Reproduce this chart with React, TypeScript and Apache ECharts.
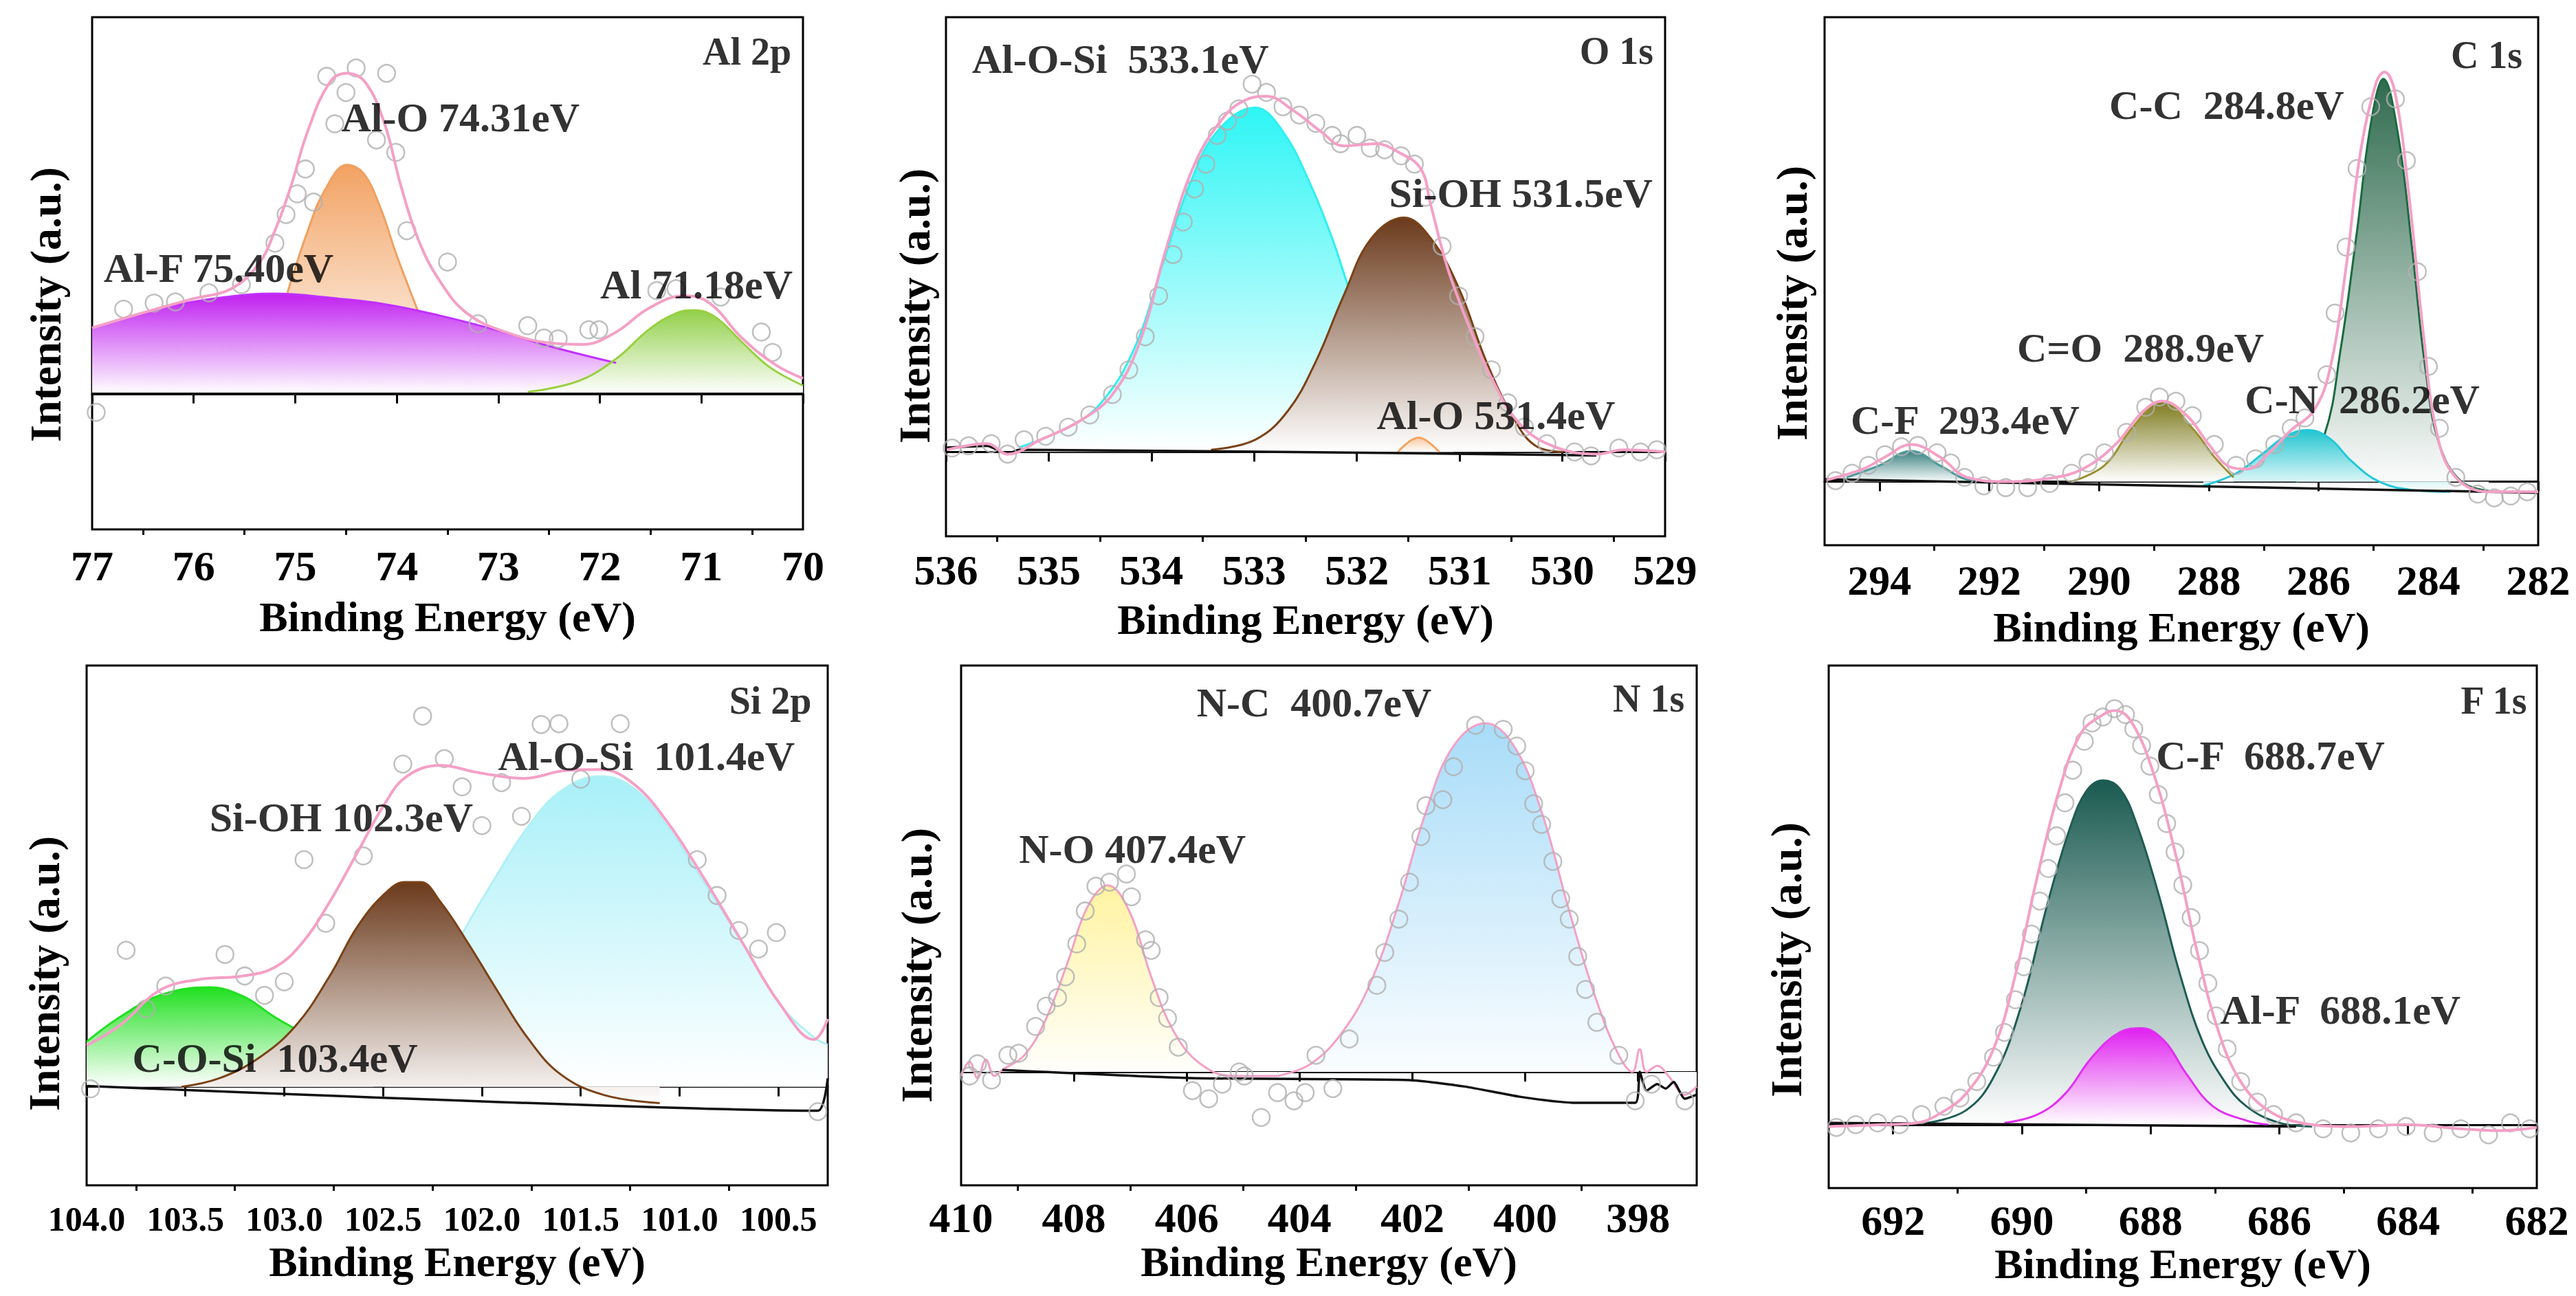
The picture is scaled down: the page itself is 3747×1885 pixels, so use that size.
// XPS fitting panels: Al 2p, O 1s, C 1s, Si 2p, N 1s, F 1s
import React, { useRef, useEffect } from 'react';
import * as echarts from 'echarts';

type Pt = [number, number];
interface Note { x: number; y: number; text: string }

const FONT = '"Liberation Serif", "Times New Roman", serif';
const PINK = '#f4a0c6';
const RAW = '#b0b0b0';

// ---------- Al 2p ----------
const al2pTicks = [77, 76, 75, 74, 73, 72, 71, 70];
const al2pMinor = [76.5, 75.5, 74.5, 73.5, 72.5, 71.5, 70.5];
const al2pEnvelope: Pt[] = [
  [77, 17.5], [76.5, 21.5], [76.01, 25.2], [75.63, 27.9], [75.36, 34.5], [75.2, 43.3], [75.04, 55.3],
  [74.88, 69.5], [74.66, 82.7], [74.49, 85.1], [74.31, 82.7], [74.12, 71.7], [73.96, 55.3], [73.79, 41.1],
  [73.58, 30.1], [73.31, 21.4], [72.93, 16.4], [72.49, 13.5], [72.17, 13.1], [71.84, 16.4], [71.52, 22.7],
  [71.17, 26], [70.92, 24.1], [70.6, 14.8], [70.27, 7.7], [70, 4.1],
];
const al2pAlF: Pt[] = [
  [77, 17.5], [76.5, 21.3], [76.28, 23], [75.74, 25.5], [75.2, 26.6], [74.66, 25.5], [74.12, 23.8],
  [73.58, 20.8], [73.03, 17], [72.49, 12.6], [71.84, 8.2],
];
const al2pAlO: Pt[] = [
  [75.08, 26.5], [74.88, 43], [74.71, 54], [74.49, 60.8], [74.33, 58.6], [74.17, 50], [74.0, 36.7], [73.79, 21.9],
];
const al2pAl: Pt[] = [
  [72.71, 0.5], [72.22, 3.3], [71.84, 9.3], [71.52, 17], [71.25, 21.4], [71.07, 22.2], [70.87, 20.5],
  [70.6, 13.7], [70.33, 7.1], [70, 2.2],
];
const al2pBase: Pt[] = [[77, 0], [70, 0]];
const al2pRaw: Pt[] = [
  [74.69, 84.3], [74.4, 86.5], [74.1, 85.1], [74.5, 80], [74.61, 71.7], [74.2, 67.4], [74.01, 64.1],
  [74.9, 59.7], [74.98, 53.1], [74.82, 50.9], [75.09, 47.6], [73.9, 43.3], [75.2, 40], [73.5, 35],
  [75.53, 29], [75.85, 26.8], [76.18, 24.4], [76.39, 24.1], [76.69, 22.5], [73.2, 18.6], [72.71, 18.1],
  [72.55, 14.8], [72.41, 14.6], [72.11, 17], [72.01, 17], [71.44, 27.4], [71.25, 27.9], [70.81, 25.7],
  [70.41, 16.4], [70.3, 11], [76.96, -4.9],
];
const al2pNotes: Note[] = [
  { x: 74.55, y: 73.4, text: 'Al-O 74.31eV' },
  { x: 76.89, y: 33.4, text: 'Al-F 75.40eV' },
  { x: 72.0, y: 29, text: 'Al 71.18eV' },
];

// ---------- O 1s ----------
const o1sTicks = [536, 535, 534, 533, 532, 531, 530, 529];
const o1sMinor = [535.5, 534.5, 533.5, 532.5, 531.5, 530.5, 529.5];
const o1sEnvelope: Pt[] = [
  [535.99, 0.5], [535.6, 1.9], [535.4, -0.5], [535.08, 2.8], [534.7, 7.1], [534.38, 13.2], [534.11, 25.5],
  [533.85, 47.3], [533.58, 66.2], [533.31, 76.6], [533.1, 80.8], [532.88, 81.8], [532.61, 78.4],
  [532.35, 73.7], [532.13, 70.4], [531.81, 70.9], [531.6, 69], [531.38, 65.2], [531.28, 56.7],
  [531.12, 42.5], [530.9, 28.4], [530.69, 17], [530.42, 6.6], [530.1, 1.4], [529.67, -0.5], [529.4, 0.5], [529, 0],
];
const o1sAlOSi: Pt[] = [
  [535.29, 1], [534.81, 5.7], [534.49, 11.3], [534.17, 23.6], [533.9, 42.5], [533.63, 61.4], [533.36, 73.7],
  [532.99, 79.2], [532.72, 73.7], [532.45, 61.4], [532.24, 49.1], [532.05, 35.9], [531.81, 22.7],
  [531.49, 9.5], [531.06, 1.9],
];
const o1sSiOH: Pt[] = [
  [533.42, 0.5], [532.99, 2.8], [532.67, 9.5], [532.4, 20.8], [532.13, 35.9], [531.86, 49.1], [531.54, 53.9],
  [531.28, 49.1], [531.01, 37.8], [530.74, 20.8], [530.47, 7.6], [530.26, 1.4], [529.99, 0],
];
const o1sAlO: Pt[] = [[531.6, 0], [531.4, 3.3], [531.2, 0]];
const o1sBase: Pt[] = [[535.99, 1], [535.6, 1.4], [535.4, -0.5], [535.29, 0.5], [529.67, -0.8]];
const o1sRaw: Pt[] = [
  [535.94, 0.9], [535.78, 1.4], [535.56, 1.9], [535.4, -0.5], [535.24, 2.8], [535.03, 3.6], [534.81, 5.7],
  [534.6, 8.5], [534.38, 13.2], [534.22, 18.9], [534.06, 26.5], [533.93, 35.9], [533.79, 45.4],
  [533.69, 52.9], [533.58, 60.5], [533.47, 66.2], [533.36, 72.8], [533.26, 76.1], [533.15, 78.9],
  [533.02, 84.6], [532.88, 82.7], [532.72, 79.4], [532.56, 77.5], [532.4, 75.6], [532.24, 72.8],
  [532.16, 70.9], [532.0, 72.8], [531.87, 69.9], [531.73, 69.5], [531.57, 68.1], [531.44, 66.2],
  [531.33, 58.6], [531.17, 47.3], [531.01, 35.9], [530.85, 26.5], [530.69, 18.9], [530.53, 11.3],
  [530.37, 5.7], [530.15, 1.9], [529.88, 0], [529.72, -0.9], [529.45, 0.9], [529.24, 0], [529.08, 0.5],
];
const o1sNotes: Note[] = [
  { x: 535.75, y: 90.3, text: 'Al-O-Si  533.1eV' },
  { x: 531.69, y: 59.5, text: 'Si-OH 531.5eV' },
  { x: 531.81, y: 8.5, text: 'Al-O 531.4eV' },
];

// ---------- C 1s ----------
const c1sTicks = [294, 292, 290, 288, 286, 284, 282];
const c1sMinor = [293, 291, 289, 287, 285, 283];
const c1sEnvelope: Pt[] = [
  [294.95, 0.4], [294.3, 2.7], [293.9, 5.3], [293.42, 8], [292.9, 5.3], [292.4, 0.9], [291.7, 0], [290.9, 0.7],
  [290.3, 2.7], [289.7, 8], [289.2, 15.1], [288.85, 17.3], [288.4, 14.2], [288.0, 8], [287.6, 3.1],
  [287.3, 2.7], [286.9, 6.2], [286.5, 11.1], [286.1, 15.1], [285.8, 23.9], [285.5, 46.1], [285.25, 70],
  [284.95, 86], [284.8, 88.2], [284.6, 83.3], [284.35, 61.2], [284.1, 32.8], [283.85, 10.6], [283.5, 0.9],
  [282.9, -2.2], [282, -2.2],
];
const c1sCC: Pt[] = [
  [286.4, -0.2], [285.9, 9.8], [285.6, 28.4], [285.3, 54], [285.05, 77], [284.82, 86.7], [284.55, 74.5],
  [284.3, 50.5], [284.05, 23.9], [283.8, 8], [283.4, 0], [282.9, -2],
];
const c1sCN: Pt[] = [
  [288.1, -0.9], [287.5, 1.8], [287.0, 6.2], [286.6, 9.8], [286.2, 11.1], [285.8, 9.3], [285.4, 4.4],
  [284.9, 0], [284.3, -1.8], [283.6, -2.2],
];
const c1sCO: Pt[] = [
  [290.5, 0], [289.9, 3.5], [289.4, 11.5], [288.85, 17.3], [288.3, 11.5], [287.9, 5.3], [287.55, 0.9],
];
const c1sCF: Pt[] = [[294.6, 0.9], [294.0, 3.5], [293.42, 6.6], [292.9, 3.5], [292.4, 0.4], [291.9, -0.2]];
const c1sBase: Pt[] = [[295, 0.5], [282, -2.4]];
const c1sRaw: Pt[] = [
  [294.8, 0.2], [294.5, 1.8], [294.2, 3.5], [293.9, 5.8], [293.6, 7.5], [293.3, 7.8], [292.95, 6.2],
  [292.7, 4], [292.45, 0.9], [292.1, -0.9], [291.7, -1.3], [291.3, -1.3], [290.9, -0.4], [290.5, 1.8],
  [290.2, 4], [289.9, 6.2], [289.5, 10.6], [289.15, 16], [288.9, 18.2], [288.6, 17.3], [288.3, 14.2],
  [287.9, 8], [287.5, 3.5], [287.15, 4.9], [286.8, 8], [286.5, 11.5], [286.25, 13.7], [285.85, 23],
  [285.7, 36.3], [285.5, 50.5], [285.3, 67.4], [285.05, 80.7], [284.6, 82.4], [284.4, 69.1],
  [284.2, 45.2], [284.0, 24.8], [283.8, 11.5], [283.5, 0.9], [283.1, -2.7], [282.8, -3.5],
  [282.5, -3.1], [282.2, -2.2],
];
const c1sNotes: Note[] = [
  { x: 289.82, y: 81.1, text: 'C-C  284.8eV' },
  { x: 291.5, y: 28.8, text: 'C=O  288.9eV' },
  { x: 287.35, y: 17.7, text: 'C-N  286.2eV' },
  { x: 294.53, y: 13.3, text: 'C-F  293.4eV' },
];

// ---------- Si 2p ----------
const si2pTicks = [104.0, 103.5, 103.0, 102.5, 102.0, 101.5, 101.0, 100.5];
const si2pMinor = [103.75, 103.25, 102.75, 102.25, 101.75, 101.25, 100.75];
const si2pEnvelope: Pt[] = [
  [104.0, 9.8], [103.83, 14.6], [103.63, 22.9], [103.44, 25.4], [103.21, 26.3], [103.05, 28.3],
  [102.91, 34.1], [102.77, 43.9], [102.63, 55.6], [102.49, 67.3], [102.38, 73.7], [102.21, 76.3],
  [102.02, 74.6], [101.79, 73.2], [101.57, 75.1], [101.4, 75.3], [101.24, 72.2], [101.07, 63.4],
  [100.88, 49.8], [100.68, 34.1], [100.49, 19.5], [100.32, 11.2], [100.25, 16.1],
];
const si2pAlOSi: Pt[] = [
  [102.49, 4.9], [102.27, 21.5], [102.09, 37.1], [101.93, 49.8], [101.77, 61.5], [101.6, 70.2], [101.4, 73.7],
  [101.24, 71.2], [101.07, 62.4], [100.88, 48.8], [100.68, 34.1], [100.49, 19.5], [100.32, 11.7], [100.25, 10],
];
const si2pSiOH: Pt[] = [
  [103.52, 0], [103.33, 2], [103.13, 6.8], [102.94, 14.6], [102.77, 26.3], [102.63, 38], [102.49, 45.9],
  [102.39, 48.6], [102.31, 48.6], [102.21, 43.9], [102.07, 34.1], [101.93, 23.4], [101.77, 11.7],
  [101.6, 2.9], [101.38, -2], [101.1, -3.9],
];
const si2pCOSi: Pt[] = [
  [104.0, 10.7], [103.83, 16.6], [103.63, 21.7], [103.38, 23.6], [103.21, 21.5], [103.05, 16.6],
  [102.91, 12.7], [102.77, 7.8], [102.55, 2],
];
const si2pBase: Pt[] = [[104.0, 0.2], [100.3, -5.7], [100.25, 2]];
const si2pRaw: Pt[] = [
  [103.8, 32.4], [103.6, 23.9], [103.7, 18.5], [103.3, 31.4], [103.2, 26.3], [103.1, 21.7], [103.0, 24.9],
  [102.9, 53.9], [102.79, 38.8], [102.6, 54.8], [102.4, 76.6], [102.3, 88], [102.19, 77.9], [102.1, 71.2],
  [102.0, 62], [101.9, 72.2], [101.8, 64.2], [101.7, 86], [101.61, 86.2], [101.5, 73], [101.3, 86.2],
  [100.91, 53.9], [100.81, 45.4], [100.7, 37.1], [100.6, 32.7], [100.51, 36.6], [100.3, -5.9], [103.98, -0.5],
];
const si2pNotes: Note[] = [
  { x: 101.92, y: 78.5, text: 'Al-O-Si  101.4eV' },
  { x: 103.38, y: 63.9, text: 'Si-OH 102.3eV' },
  { x: 103.77, y: 6.8, text: 'C-O-Si  103.4eV' },
];

// ---------- N 1s ----------
const n1sTicks = [410, 408, 406, 404, 402, 400, 398];
const n1sMinor = [409, 407, 405, 403, 401, 399];
const n1sNO: Pt[] = [
  [410, -1], [409.85, 2.5], [409.71, -1.5], [409.56, 3], [409.41, -1], [409.27, 0.5], [408.88, 4.1],
  [408.49, 13.2], [408.1, 27.4], [407.76, 40.6], [407.4, 45.9], [407.02, 39.6], [406.63, 23.4],
  [406.24, 10.2], [405.76, 2], [405.17, -1], [404.39, -1],
];
const n1sNC: Pt[] = [
  [404.39, -1], [403.8, 2], [403.22, 10.2], [402.73, 22.3], [402.24, 41.6], [401.76, 64], [401.27, 80.2],
  [400.7, 85.8], [400.2, 80.2], [399.71, 64], [399.22, 39.6], [398.73, 17.3], [398.34, 4.1], [398.1, 0],
  [397.97, 5.6], [397.85, 0], [397.66, 1.5], [397.46, -1], [397.17, -5.6], [396.96, -3.6],
];
const n1sBase: Pt[] = [
  [409.27, 0.5], [405.95, -1.5], [402.05, -2], [401.07, -3.6], [400.1, -6.1], [399.12, -7.6], [398.05, -7.6],
  [397.97, 0], [397.85, -4.6], [397.66, -3], [397.51, -4.1], [397.37, -2.5], [397.17, -6.6], [396.96, -5.6],
];
const n1sRaw: Pt[] = [
  [409.85, -1], [409.71, 2], [409.46, -2], [409.17, 4.1], [408.98, 4.6], [408.68, 11.2], [408.49, 16.2],
  [408.29, 18.3], [408.15, 23.4], [407.95, 31.5], [407.8, 39.6], [407.61, 45.7], [407.37, 46.7],
  [407.07, 48.7], [406.98, 43.1], [406.73, 32.5], [406.63, 29.9], [406.49, 18.3], [406.34, 13.2],
  [406.15, 6.1], [405.9, -4.6], [405.61, -6.6], [405.37, -3], [405.07, 0], [404.98, -1], [404.68, -11.2],
  [404.39, -5.1], [404.1, -7.1], [403.9, -5.1], [403.71, 4.1], [403.41, -4.1], [403.12, 8.1],
  [402.63, 21.3], [402.49, 29.4], [402.24, 37.6], [402.05, 46.7], [401.85, 57.9], [401.76, 65.5],
  [401.46, 67], [401.27, 75.1], [400.88, 85.3], [400.39, 84.3], [400.15, 80.2], [400.0, 74.1],
  [399.85, 66], [399.71, 60.9], [399.51, 51.8], [399.37, 42.6], [399.22, 37.6], [399.07, 28.4],
  [398.93, 20.3], [398.73, 12.2], [398.34, 4.1], [398.05, -7.1], [397.76, -3], [397.17, -7.1],
];
const n1sNotes: Note[] = [
  { x: 405.83, y: 90.9, text: 'N-C  400.7eV' },
  { x: 408.98, y: 54.8, text: 'N-O 407.4eV' },
];

// ---------- F 1s ----------
const f1sTicks = [692, 690, 688, 686, 684, 682];
const f1sMinor = [691, 689, 687, 685, 683];
const f1sEnvelope: Pt[] = [
  [693, -0.4], [692.15, 0], [691.64, 0.4], [691.3, 2.2], [690.87, 6.7], [690.44, 16.5], [690.1, 32.6],
  [689.76, 54], [689.42, 72.8], [689.08, 85.3], [688.74, 89.3], [688.56, 90.2], [688.31, 88], [687.97, 77.2],
  [687.62, 59.4], [687.28, 37.9], [686.94, 20.1], [686.6, 9.4], [686.17, 3.1], [685.66, 0.4], [684.89, -0.4],
  [684.03, 0], [683.18, -0.9], [682.58, -1.3], [682, -0.6],
];
const f1sCF: Pt[] = [
  [691.47, 0.4], [690.87, 3.1], [690.44, 10.3], [690.02, 25.4], [689.59, 48.7], [689.25, 64.7], [688.99, 72.8],
  [688.74, 75], [688.48, 73.2], [688.22, 65.6], [687.88, 50.4], [687.54, 32.6], [687.2, 18.3], [686.85, 9.4],
  [686.51, 4], [686.0, 0.4], [685.49, -0.4],
];
const f1sAlF: Pt[] = [
  [690.27, 0.4], [689.76, 2.2], [689.33, 6.7], [688.91, 14.7], [688.48, 20.1], [688.14, 21], [687.79, 18.3],
  [687.45, 11.2], [687.03, 4], [686.51, 0.9], [686.17, 0],
];
const f1sBase: Pt[] = [[693, 0.4], [685.74, -0.4]];
const f1sRaw: Pt[] = [
  [692.88, -0.6], [692.58, 0], [692.24, 0.4], [691.9, 0], [691.56, 2.2], [691.21, 4], [690.96, 5.8],
  [690.7, 9.4], [690.44, 14.7], [690.27, 20.1], [690.1, 27.2], [689.97, 34.4], [689.85, 41.5],
  [689.72, 48.7], [689.59, 55.8], [689.46, 62.9], [689.33, 70.1], [689.21, 77.2], [689.03, 83.5],
  [688.91, 87.5], [688.74, 88.8], [688.56, 90.6], [688.39, 89.3], [688.26, 86.2], [688.14, 82.6],
  [688.01, 78.1], [687.88, 71.9], [687.75, 65.6], [687.62, 59.4], [687.5, 52.2], [687.37, 45.1],
  [687.24, 37.9], [687.11, 30.8], [686.98, 23.7], [686.81, 16.5], [686.6, 9.4], [686.34, 4.9],
  [686.09, 2.2], [685.74, 0.4], [685.32, -0.9], [684.89, -1.8], [684.46, -0.9], [684.03, -0.4],
  [683.61, -1.8], [683.18, -0.9], [682.75, -2.2], [682.41, 0.4], [682.11, -0.9],
];
const f1sNotes: Note[] = [
  { x: 687.92, y: 80.4, text: 'C-F  688.7eV' },
  { x: 686.92, y: 25, text: 'Al-F  688.1eV' },
];

interface Peak { data: Pt[]; line: string; fill: string; z: number }
interface Panel {
  rect: { left: number; top: number; width: number; height: number };
  x: [number, number];
  y: [number, number];
  ticks: number[];
  minor: number[];
  decimals: number;
  tickSize: number;
  tickMargin: number;
  titleGap: number;
  peaks: Peak[];
  envelope: Pt[] | null;
  base: Pt[];
  raw: Pt[];
  notes: Note[];
  corner: Note;
  yTitle: [number, number];
}

const panels: Panel[] = [
  {
    rect: { left: 134, top: 25, width: 1034, height: 745 }, x: [70, 77], y: [-36, 100],
    ticks: al2pTicks, minor: al2pMinor, decimals: 0, tickSize: 62, tickMargin: 22, titleGap: 96,
    peaks: [
      { data: al2pAlO, line: '#f0a060', fill: '#f2a262', z: 2 },
      { data: al2pAlF, line: '#c030ff', fill: '#c020f0', z: 3 },
      { data: al2pAl, line: '#98d040', fill: '#92d04a', z: 3 },
    ],
    envelope: al2pEnvelope, base: al2pBase, raw: al2pRaw, notes: al2pNotes,
    corner: { x: 70.11, y: 90.9, text: 'Al 2p' }, yTitle: [66, 443],
  },
  {
    rect: { left: 1376, top: 25, width: 1046, height: 755 }, x: [529, 536], y: [-19.4, 100],
    ticks: o1sTicks, minor: o1sMinor, decimals: 0, tickSize: 62, tickMargin: 18, titleGap: 90,
    peaks: [
      { data: o1sAlOSi, line: '#30f0f0', fill: '#2ef5f5', z: 2 },
      { data: o1sSiOH, line: '#7a4216', fill: '#6b3a1c', z: 3 },
      { data: o1sAlO, line: '#f4a460', fill: '#f8c8a0', z: 4 },
    ],
    envelope: o1sEnvelope, base: o1sBase, raw: o1sRaw, notes: o1sNotes,
    corner: { x: 529.11, y: 92.2, text: 'O 1s' }, yTitle: [1330, 445],
  },
  {
    rect: { left: 2654, top: 25, width: 1038, height: 768 }, x: [282, 295], y: [-13.7, 100],
    ticks: c1sTicks, minor: c1sMinor, decimals: 0, tickSize: 62, tickMargin: 20, titleGap: 88,
    peaks: [
      { data: c1sCC, line: '#1a6b40', fill: '#2f6b4e', z: 2 },
      { data: c1sCN, line: '#22c8d8', fill: '#22c5d0', z: 3 },
      { data: c1sCO, line: '#9a9030', fill: '#7d7a1c', z: 3 },
      { data: c1sCF, line: '#4a9a9a', fill: '#3a8080', z: 3 },
    ],
    envelope: c1sEnvelope, base: c1sBase, raw: c1sRaw, notes: c1sNotes,
    corner: { x: 282.28, y: 91.8, text: 'C 1s' }, yTitle: [2606, 441],
  },
  {
    rect: { left: 126, top: 968, width: 1078, height: 756 }, x: [100.25, 104], y: [-23.4, 100],
    ticks: si2pTicks, minor: si2pMinor, decimals: 1, tickSize: 50, tickMargin: 24, titleGap: 80,
    peaks: [
      { data: si2pAlOSi, line: '#b0f0f5', fill: '#a8f0f8', z: 2 },
      { data: si2pCOSi, line: '#20e020', fill: '#20e020', z: 2 },
      { data: si2pSiOH, line: '#7a4216', fill: '#6b3a1c', z: 3 },
    ],
    envelope: si2pEnvelope, base: si2pBase, raw: si2pRaw, notes: si2pNotes,
    corner: { x: 100.33, y: 91.7, text: 'Si 2p' }, yTitle: [64, 1416],
  },
  {
    rect: { left: 1398, top: 968, width: 1070, height: 756 }, x: [396.96, 410], y: [-27.9, 100],
    ticks: n1sTicks, minor: n1sMinor, decimals: 0, tickSize: 62, tickMargin: 16, titleGap: 80,
    peaks: [
      { data: n1sNO, line: PINK, fill: '#fff3a0', z: 3 },
      { data: n1sNC, line: PINK, fill: '#a8dcf8', z: 3 },
    ],
    envelope: null, base: n1sBase, raw: n1sRaw, notes: n1sNotes,
    corner: { x: 397.17, y: 91.9, text: 'N 1s' }, yTitle: [1333, 1404],
  },
  {
    rect: { left: 2660, top: 968, width: 1030, height: 760 }, x: [682, 693], y: [-13.8, 100],
    ticks: f1sTicks, minor: f1sMinor, decimals: 0, tickSize: 62, tickMargin: 16, titleGap: 78,
    peaks: [
      { data: f1sCF, line: '#1f5c55', fill: '#1a5a50', z: 2 },
      { data: f1sAlF, line: '#e030f0', fill: '#e020f0', z: 3 },
    ],
    envelope: f1sEnvelope, base: f1sBase, raw: f1sRaw, notes: f1sNotes,
    corner: { x: 682.15, y: 92.4, text: 'F 1s' }, yTitle: [2598, 1396],
  },
];

function fade(top: string) {
  return new echarts.graphic.LinearGradient(0, 0, 0, 1, [
    { offset: 0, color: top },
    { offset: 1, color: '#ffffff' },
  ]);
}

function buildOption(): echarts.EChartsOption {
  const textBase = { fontFamily: FONT, fontWeight: 'bold' as const, color: '#000' };
  const grid = panels.map((p) => ({
    ...p.rect,
    show: true,
    borderColor: '#000',
    borderWidth: 3,
    backgroundColor: 'transparent',
  }));

  const xAxis: any[] = [];
  panels.forEach((p, i) => {
    xAxis.push({
      type: 'value', gridIndex: i, min: p.x[0], max: p.x[1], inverse: true, position: 'bottom',
      name: 'Binding Energy (eV)', nameLocation: 'middle', nameGap: p.titleGap,
      nameTextStyle: { ...textBase, fontSize: 62 },
      axisLine: { show: true, lineStyle: { color: '#000', width: 3 } },
      axisTick: { show: true, customValues: p.ticks, length: 14, lineStyle: { color: '#000', width: 3 } },
      axisLabel: {
        show: true, customValues: p.ticks, margin: p.tickMargin, ...textBase, fontSize: p.tickSize,
        formatter: (v: number) => v.toFixed(p.decimals),
      },
      splitLine: { show: false },
    });
    xAxis.push({
      type: 'value', gridIndex: i, min: p.x[0], max: p.x[1], inverse: true, position: 'bottom',
      axisLine: { show: false },
      axisTick: { show: true, customValues: p.minor, length: 8, lineStyle: { color: '#000', width: 3 } },
      axisLabel: { show: false },
      splitLine: { show: false },
    });
  });

  const yAxis = panels.map((p, i) => ({
    type: 'value' as const, gridIndex: i, min: p.y[0], max: p.y[1], show: false,
  }));

  const series: any[] = [];
  panels.forEach((p, i) => {
    const axes = { xAxisIndex: 2 * i, yAxisIndex: i };
    p.peaks.forEach((pk) => {
      series.push({
        type: 'line', ...axes, data: pk.data, smooth: 0.4, symbol: 'none', z: pk.z,
        lineStyle: { color: pk.line, width: 3 },
        areaStyle: { color: fade(pk.fill), opacity: 1 },
      });
    });
    series.push({
      type: 'line', ...axes, data: p.base, smooth: 0.2, symbol: 'none', z: 5,
      lineStyle: { color: '#111', width: 3.5 },
    });
    series.push({
      type: 'scatter', ...axes, data: p.raw, symbol: 'circle', symbolSize: 25, z: 6,
      itemStyle: { color: 'rgba(255,255,255,0)', borderColor: RAW, borderWidth: 2.5 },
    });
    if (p.envelope) {
      series.push({
        type: 'line', ...axes, data: p.envelope, smooth: 0.4, symbol: 'none', z: 7,
        lineStyle: { color: PINK, width: 4 },
      });
    }
    series.push({
      type: 'scatter', ...axes, symbolSize: 1, z: 20, silent: true,
      itemStyle: { color: 'rgba(0,0,0,0)' },
      data: p.notes.map((n) => ({ value: [n.x, n.y], name: n.text })),
      label: { show: true, position: 'right', distance: 0, formatter: '{b}', ...textBase, fontSize: 60 },
    });
    series.push({
      type: 'scatter', ...axes, symbolSize: 1, z: 20, silent: true,
      itemStyle: { color: 'rgba(0,0,0,0)' },
      data: [{ value: [p.corner.x, p.corner.y], name: p.corner.text }],
      label: { show: true, position: 'left', distance: 0, formatter: '{b}', ...textBase, fontSize: 56 },
    });
  });

  const graphic = panels.map((p) => ({
    type: 'text' as const,
    x: p.yTitle[0],
    y: p.yTitle[1],
    rotation: Math.PI / 2,
    style: {
      text: 'Intensity (a.u.)', fontFamily: FONT, fontWeight: 'bold', fontSize: 64, fill: '#000',
      align: 'center', verticalAlign: 'middle',
    },
  }));

  return { animation: false, backgroundColor: '#fff', grid, xAxis, yAxis, series, graphic } as any;
}

export default function App() {
  const chartRef = useRef<HTMLDivElement>(null);

  useEffect(() => {
    document.body.style.margin = '0';
    if (!chartRef.current) return;
    const chart = echarts.init(chartRef.current, undefined, { renderer: 'svg' });
    chart.setOption(buildOption());
    return () => {
      chart.dispose();
    };
  }, []);

  return <div ref={chartRef} style={{ width: '3747px', height: '1885px' }} />;
}
